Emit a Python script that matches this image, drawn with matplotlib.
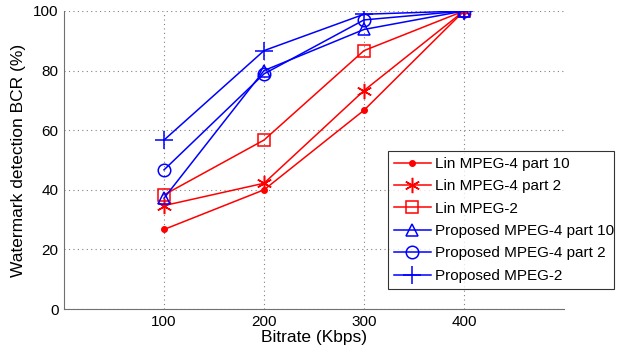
import matplotlib
matplotlib.use("Agg")
import matplotlib.pyplot as plt

plt.rcParams["font.family"] = ["Liberation Sans", "DejaVu Sans"]

bitrate = [100, 200, 300, 400]
lin_mpeg4_p10 = [26.7, 40.0, 66.7, 100.0]
lin_mpeg4_p2 = [34.7, 42.2, 73.3, 100.0]
lin_mpeg2 = [38.3, 56.7, 86.7, 100.0]
prop_mpeg4_p10 = [37.2, 80.0, 93.8, 100.0]
prop_mpeg4_p2 = [46.7, 78.9, 97.0, 100.0]
prop_mpeg2 = [56.7, 86.7, 98.9, 100.0]

labels = ["Lin MPEG-4 part 10", "Lin MPEG-4 part 2", "Lin MPEG-2",
          "Proposed MPEG-4 part 10", "Proposed MPEG-4 part 2", "Proposed MPEG-2"]

fig = plt.figure(figsize=(6.18, 3.54), dpi=100)
ax = fig.add_axes([0.1036, 0.127, 0.809, 0.842])

red = "#ff0000"
blue = "#0000ff"
ax.plot(bitrate, lin_mpeg4_p10, "-", color=red, marker="o", markersize=4, lw=1.1, label=labels[0])
ax.plot(bitrate, lin_mpeg4_p2, "-", color=red, marker=(6, 2, 0), markersize=11, mew=1.1, lw=1.1, label=labels[1])
ax.plot(bitrate, lin_mpeg2, "-", color=red, marker="s", markersize=9, mfc="none", mew=1.1, lw=1.1, label=labels[2])
ax.plot(bitrate, prop_mpeg4_p10, "-", color=blue, marker="^", markersize=9, mfc="none", mew=1.1, lw=1.1, label=labels[3])
ax.plot(bitrate, prop_mpeg4_p2, "-", color=blue, marker="o", markersize=9, mfc="none", mew=1.1, lw=1.1, label=labels[4])
ax.plot(bitrate, prop_mpeg2, "-", color=blue, marker="+", markersize=13, mew=1.1, lw=1.1, label=labels[5])

ax.set_xlim(0, 500)
ax.set_ylim(0, 100)
ax.set_xticks(bitrate)
ax.set_yticks([0, 20, 40, 60, 80, 100])
ax.tick_params(labelsize=11, length=0, pad=4)
ax.grid(True, linestyle=(0, (1, 3)), color="#808080", lw=0.8)
for s in ["top", "right"]:
    ax.spines[s].set_visible(False)
for s in ["left", "bottom"]:
    ax.spines[s].set_color("#707070")

ax.set_xlabel("Bitrate (Kbps)", fontsize=12.5, labelpad=1)
ax.set_ylabel("Watermark detection BCR (%)", fontsize=12.5, labelpad=5)

leg = ax.legend(loc="lower left", bbox_to_anchor=(388 / 618, 1 - 289 / 354, 226 / 618, 139 / 354),
                bbox_transform=fig.transFigure, mode="expand", fontsize=11, frameon=True,
                fancybox=False, edgecolor="black", handlelength=2.4, borderaxespad=0,
                labelspacing=0.55, handletextpad=0.3, borderpad=0.4)
leg.get_frame().set_linewidth(0.8)

fig.savefig("out.png", dpi=100)
